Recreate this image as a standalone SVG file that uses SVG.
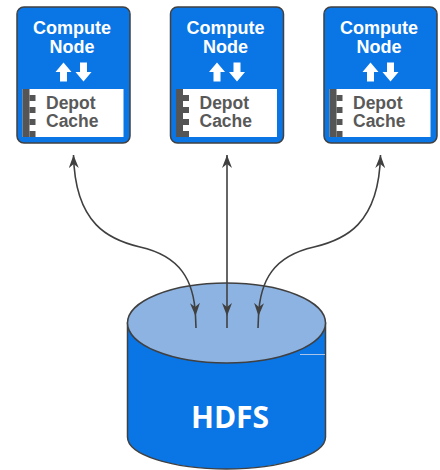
<svg xmlns="http://www.w3.org/2000/svg" xmlns:xlink="http://www.w3.org/1999/xlink" width="440" height="470" viewBox="0 0 440 470">
  <style>
    .box { fill: #0a76e6; stroke: #404040; stroke-width: 1.5; }
    .panel { fill: #ffffff; }
    .title { font-family: "Liberation Sans", Arial, sans-serif; font-weight: bold; font-size: 18px; fill: #ffffff; text-anchor: middle; }
    .cache { font-family: "Liberation Sans", Arial, sans-serif; font-weight: bold; font-size: 17.5px; fill: #595959; }
    .dark { fill: #555555; }
    .link { fill: none; stroke: #404040; stroke-width: 1.6; }
    .body { fill: #0a76e6; stroke: #404040; stroke-width: 1.5; }
    .lid { fill: #8db3e2; stroke: #404040; stroke-width: 1.5; }
    .label { font-family: "Open Sans", "Liberation Sans", sans-serif; font-weight: bold; font-size: 30px; fill: #ffffff; text-anchor: middle; }
  </style>
  <defs>
    <marker id="head" markerUnits="userSpaceOnUse" viewBox="0 0 13 10" refX="13" refY="5" markerWidth="13" markerHeight="10" orient="auto-start-reverse">
      <path d="M0,0 L13,5 L0,10 L4,5 z" fill="#404040"/>
    </marker>
    <!-- checkered strip at the left of the cache panel -->
    <g id="checker">
      <rect class="dark" x="0" y="0" width="7" height="48"/>
      <rect class="dark" x="7" y="6" width="6" height="6"/>
      <rect class="dark" x="7" y="18" width="6" height="6"/>
      <rect class="dark" x="7" y="30" width="6" height="6"/>
      <rect class="dark" x="7" y="42" width="6" height="6"/>
    </g>
    <!-- white up/down arrow pair, centred on x=0 -->
    <g id="updown" fill="#ffffff">
      <polygon points="-10,62.5 -2,72 -6.5,72 -6.5,81.5 -13.5,81.5 -13.5,72 -18,72"/>
      <polygon points="6.5,62.5 13.5,62.5 13.5,72 18,72 10,81.5 2,72 6.5,72"/>
    </g>
  </defs>

  <g id="node1">
    <rect class="box" x="17" y="7" width="113" height="136" rx="7"/>
    <text class="title" x="72" y="34">Compute</text>
    <text class="title" x="72" y="53">Node</text>
    <use xlink:href="#updown" x="73.5"/>
    <rect class="panel" x="22.5" y="89" width="101" height="48"/>
    <use xlink:href="#checker" x="22.5" y="89"/>
    <text class="cache" x="46" y="109">Depot</text>
    <text class="cache" x="46" y="127">Cache</text>
  </g>

  <g id="node2">
    <rect class="box" x="170.5" y="7" width="113" height="136" rx="7"/>
    <text class="title" x="225.5" y="34">Compute</text>
    <text class="title" x="225.5" y="53">Node</text>
    <use xlink:href="#updown" x="227"/>
    <rect class="panel" x="176" y="89" width="101" height="48"/>
    <use xlink:href="#checker" x="176" y="89"/>
    <text class="cache" x="199.5" y="109">Depot</text>
    <text class="cache" x="199.5" y="127">Cache</text>
  </g>

  <g id="node3">
    <rect class="box" x="324" y="7" width="113" height="136" rx="7"/>
    <text class="title" x="379" y="34">Compute</text>
    <text class="title" x="379" y="53">Node</text>
    <use xlink:href="#updown" x="380.5"/>
    <rect class="panel" x="329.5" y="89" width="101" height="48"/>
    <use xlink:href="#checker" x="329.5" y="89"/>
    <text class="cache" x="353" y="109">Depot</text>
    <text class="cache" x="353" y="127">Cache</text>
  </g>

  <g id="hdfs">
    <path class="body" d="M127.5,323 L127.5,437 A99,32 0 0 0 325.5,437 L325.5,323 z"/>
    <ellipse class="lid" cx="226.5" cy="323" rx="99" ry="40"/>
    <line x1="300" y1="354.5" x2="325" y2="354.5" stroke="#a9c4e8" stroke-width="1"/>
    <text class="label" x="230" y="428">HDFS</text>
  </g>

  <g id="connectors">
    <path class="link" d="M73.5,155 C75,225 110,240 140,247 C180,256 194,280 195.5,316" marker-start="url(#head)" marker-end="url(#head)"/>
    <path class="link" d="M195.5,316 L196,328"/>
    <path class="link" d="M227,155 L227,316" marker-start="url(#head)" marker-end="url(#head)"/>
    <path class="link" d="M227,316 L227,328"/>
    <path class="link" d="M380.5,155 C379,225 344,240 314,247 C274,256 260,280 258.5,316" marker-start="url(#head)" marker-end="url(#head)"/>
    <path class="link" d="M258.5,316 L258,328"/>
  </g>
</svg>
